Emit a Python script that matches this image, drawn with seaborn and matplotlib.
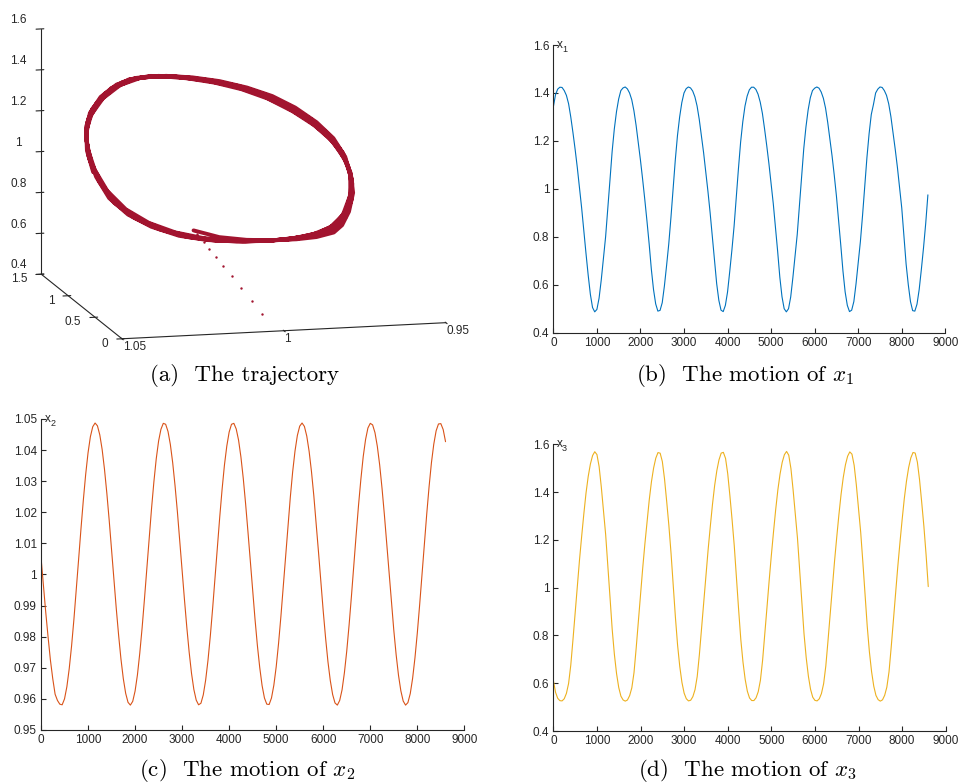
import numpy as np
import matplotlib
matplotlib.use("Agg")
import matplotlib.pyplot as plt
import seaborn as sns
from matplotlib.ticker import FuncFormatter, FixedLocator

sns.set_theme(style="ticks")
plt.rcParams["font.family"] = ["Liberation Sans", "DejaVu Sans"]
plt.rcParams["mathtext.fontset"] = "cm"

# ---------------------------------------------------------------------------
# Data: state variables sampled every 50 time units (t = 0 ... 8600)
# ---------------------------------------------------------------------------
time_step = 50
t_end = 8600

x1 = [
    1.342, 1.393, 1.416, 1.424, 1.423, 1.41, 1.39, 1.355, 1.30, 1.235, 1.165, 1.089, 1.005, 0.92, 0.825, 0.73, 0.64, 0.56, 0.505, 0.487,
    0.497, 0.544, 0.62, 0.71, 0.80, 0.916, 1.036, 1.156, 1.25, 1.322, 1.375, 1.41, 1.421, 1.425, 1.417, 1.40, 1.372, 1.326, 1.265, 1.193,
    1.12, 1.04, 0.955, 0.865, 0.77, 0.665, 0.58, 0.52, 0.49, 0.493, 0.525, 0.595, 0.68, 0.77, 0.88, 1.0, 1.12, 1.222, 1.30, 1.36,
    1.40, 1.418, 1.425, 1.421, 1.408, 1.384, 1.346, 1.29, 1.22, 1.151, 1.07, 0.989, 0.90, 0.80, 0.70, 0.605, 0.535, 0.494, 0.488, 0.514,
    0.57, 0.655, 0.745, 0.844, 0.965, 1.084, 1.195, 1.28, 1.345, 1.387, 1.413, 1.424, 1.424, 1.415, 1.395, 1.362, 1.315, 1.25, 1.18, 1.105,
    1.02, 0.938, 0.84, 0.74, 0.632, 0.55, 0.50, 0.487, 0.50, 0.549, 0.63, 0.718, 0.81, 0.928, 1.05, 1.168, 1.258, 1.329, 1.38, 1.41,
    1.42, 1.425, 1.42, 1.404, 1.378, 1.337, 1.277, 1.207, 1.137, 1.057, 0.97, 0.87, 0.765, 0.657, 0.57, 0.514, 0.488, 0.494, 0.53, 0.604,
    0.69, 0.78, 0.89, 1.01, 1.13, 1.23, 1.31, 1.352, 1.40, 1.416, 1.425, 1.423, 1.41, 1.39, 1.355, 1.302, 1.235, 1.165, 1.09, 1.005,
    0.92, 0.80, 0.686, 0.60, 0.53, 0.492, 0.49, 0.519, 0.58, 0.664, 0.755, 0.856, 0.975,
]

x2 = [
    1.0056, 0.9968, 0.9880, 0.9800, 0.9725, 0.9665, 0.9615, 0.9595, 0.9583, 0.9581, 0.9600, 0.9639, 0.9697, 0.9770, 0.9856, 0.9951, 1.0049, 1.0147, 1.0239, 1.0322,
    1.0391, 1.0443, 1.0475, 1.0487, 1.0478, 1.0449, 1.0402, 1.0338, 1.0261, 1.0174, 1.0080, 0.9985, 0.9891, 0.9805, 0.9728, 0.9665, 0.9618, 0.9589, 0.9580, 0.9592,
    0.9625, 0.9677, 0.9747, 0.9829, 0.9922, 1.0020, 1.0118, 1.0212, 1.0298, 1.0372, 1.0429, 1.0467, 1.0486, 1.0483, 1.0460, 1.0418, 1.0359, 1.0285, 1.0201, 1.0109,
    1.0013, 0.9919, 0.9830, 0.9750, 0.9682, 0.9630, 0.9596, 0.9581, 0.9586, 0.9613, 0.9660, 0.9724, 0.9803, 0.9893, 0.9990, 1.0089, 1.0185, 1.0274, 1.0352, 1.0413,
    1.0458, 1.0483, 1.0486, 1.0468, 1.0432, 1.0378, 1.0309, 1.0227, 1.0137, 1.0042, 0.9947, 0.9856, 0.9772, 0.9701, 0.9643, 0.9603, 0.9583, 0.9582, 0.9603, 0.9644,
    0.9703, 0.9778, 0.9865, 0.9961, 1.0059, 1.0157, 1.0248, 1.0330, 1.0397, 1.0447, 1.0477, 1.0487, 1.0476, 1.0445, 1.0396, 1.0331, 1.0253, 1.0164, 1.0071, 0.9975,
    0.9882, 0.9796, 0.9720, 0.9659, 0.9614, 0.9587, 0.9580, 0.9595, 0.9629, 0.9684, 0.9754, 0.9838, 0.9931, 1.0030, 1.0128, 1.0222, 1.0306, 1.0379, 1.0434, 1.0471,
    1.0486, 1.0481, 1.0456, 1.0412, 1.0352, 1.0277, 1.0192, 1.0099, 1.0004, 0.9910, 0.9821, 0.9742, 0.9676, 0.9626, 0.9593, 0.9580, 0.9588, 0.9617, 0.9666, 0.9732,
    0.9812, 0.9903, 1.0000, 1.0099, 1.0194, 1.0282, 1.0359, 1.0419, 1.0462, 1.0484, 1.0485, 1.0466, 1.0427,
]

x3 = [
    0.6126, 0.562, 0.537, 0.527, 0.526, 0.535, 0.5576, 0.5992, 0.676, 0.7818, 0.894, 1.0062, 1.116, 1.2156, 1.31, 1.3966, 1.4656, 1.5175, 1.5527, 1.5688,
    1.557, 1.5067, 1.4214, 1.3224, 1.222, 1.0925, 0.959, 0.8253, 0.7209, 0.6403, 0.5819, 0.5458, 0.530, 0.525, 0.5299, 0.548, 0.5806, 0.644, 0.7466, 0.8588,
    0.971, 1.082, 1.1833, 1.2776, 1.3673, 1.4428, 1.5008, 1.5419, 1.5652, 1.5628, 1.5278, 1.4554, 1.3606, 1.2602, 1.1433, 1.0098, 0.8761, 0.7591, 0.6699, 0.6031,
    0.5585, 0.5351, 0.526, 0.5287, 0.5437, 0.573, 0.628, 0.72, 0.8302, 0.9424, 1.0546, 1.158, 1.2555, 1.3478, 1.4274, 1.4896, 1.5351, 1.563, 1.5662, 1.541,
    1.4768, 1.3846, 1.2843, 1.1753, 1.0418, 0.9082, 0.7831, 0.6886, 0.6164, 0.5665, 0.5383, 0.5275, 0.5274, 0.539, 0.5646, 0.6124, 0.696, 0.8038, 0.916, 1.0282,
    1.134, 1.2327, 1.3262, 1.409, 1.4752, 1.5246, 1.5565, 1.570, 1.5544, 1.4982, 1.4087, 1.3084, 1.2073, 1.0738, 0.9403, 0.8072, 0.7073, 0.6298, 0.5745, 0.5415,
    0.5283, 0.526, 0.5347, 0.557, 0.598, 0.672, 0.7774, 0.8896, 1.0018, 1.11, 1.2099, 1.3046, 1.3904, 1.4608, 1.514, 1.55, 1.5681, 1.5587, 1.5122, 1.4303,
    1.3325, 1.2321, 1.1059, 0.9724, 0.8386, 0.731, 0.6481, 0.5875, 0.5491, 0.5313, 0.525, 0.5304, 0.5493, 0.5836, 0.648, 0.751, 0.8632, 0.9754, 1.086, 1.1871,
    1.283, 1.372, 1.4452, 1.5026, 1.543, 1.5655, 1.5633, 1.5256, 1.4518, 1.3565, 1.2562, 1.1379, 1.0044,
]

# fast initial transient (all at t ~ 0), drawn as separate samples
trans_x1 = [0.400, 0.544, 0.688, 0.819, 0.939, 1.042, 1.130, 1.204, 1.251, 1.297, 1.330]
trans_x2 = [1.0000, 1.0009, 1.0017, 1.0025, 1.0032, 1.0038, 1.0043, 1.0048, 1.0050, 1.0053, 1.0055]
trans_x3 = [0.400, 0.433, 0.465, 0.495, 0.522, 0.545, 0.565, 0.582, 0.592, 0.603, 0.610]

t = np.arange(0, t_end + 1, time_step)

# tick settings
time_ticks = list(range(0, 9001, 1000))
x1_ticks = [0.4, 0.6, 0.8, 1.0, 1.2, 1.4, 1.6]
x2_ticks = [0.95, 0.96, 0.97, 0.98, 0.99, 1.00, 1.01, 1.02, 1.03, 1.04, 1.05]
x3_ticks = [0.4, 0.6, 0.8, 1.0, 1.2, 1.4, 1.6]

captions = [
    r"(a)  The trajectory",
    r"(b)  The motion of $x_1$",
    r"(c)  The motion of $x_2$",
    r"(d)  The motion of $x_3$",
]

C_X1 = "#0072BD"
C_X2 = "#D95319"
C_X3 = "#EDB120"
C_TRAJ = "#A2142F"
AX_COL = "#262626"

fmt = FuncFormatter(lambda v, p: f"{v:g}")

fig = plt.figure(figsize=(9.6, 7.83), dpi=100)


def time_panel(rect, trans, series, color, yticks, name):
    ax = fig.add_axes(rect)
    tt = np.concatenate([np.zeros(len(trans)), t])
    yy = np.concatenate([trans, series])
    sns.lineplot(x=tt, y=yy, ax=ax, color=color, linewidth=0.8,
                 estimator=None, sort=False)
    ax.set_xlim(0, 9000)
    ax.set_ylim(yticks[0], yticks[-1])
    ax.xaxis.set_major_locator(FixedLocator(time_ticks))
    ax.yaxis.set_major_locator(FixedLocator(yticks))
    ax.xaxis.set_major_formatter(fmt)
    ax.yaxis.set_major_formatter(fmt)
    sns.despine(ax=ax)
    for s in ("left", "bottom"):
        ax.spines[s].set_color(AX_COL)
        ax.spines[s].set_linewidth(0.8)
    ax.tick_params(direction="in", length=3.5, width=0.8, colors=AX_COL,
                   labelsize=8.5, pad=3)
    ax.set_xlabel("")
    ax.set_ylabel("")
    ax.text(0.008, 1.0, "x", transform=ax.transAxes, ha="left", va="center",
            fontsize=8.5, color=AX_COL)
    ax.text(0.022, 0.985, name, transform=ax.transAxes, ha="left", va="center",
            fontsize=6.5, color=AX_COL)
    return ax


time_panel([0.5764, 0.5751, 0.4083, 0.3674], trans_x1, x1, C_X1, x1_ticks, "1")
time_panel([0.0427, 0.0677, 0.4410, 0.3972], trans_x2, x2, C_X2, x2_ticks, "2")
time_panel([0.5764, 0.0664, 0.4087, 0.3662], trans_x3, x3, C_X3, x3_ticks, "3")

# 3-D trajectory (x2, x1, x3)
ax3 = fig.add_axes([-0.0016, 0.529, 0.5, 0.48], projection="3d", proj_type="ortho")
ax3.plot(x2, x1, x3, color=C_TRAJ, linewidth=2.8, solid_capstyle="round")
ax3.scatter(trans_x2, trans_x1, trans_x3, s=3, color=C_TRAJ, depthshade=False,
            linewidths=0)
ax3.set_xlim(1.05, 0.95)
ax3.set_ylim(0, 1.5)
ax3.set_zlim(0.4, 1.6)
ax3.set_xticks([1.05, 1.0, 0.95])
ax3.set_yticks([0, 0.5, 1.0, 1.5])
ax3.set_zticks([0.4, 0.6, 0.8, 1.0, 1.2, 1.4, 1.6])
for axis in (ax3.xaxis, ax3.yaxis, ax3.zaxis):
    axis.set_major_formatter(fmt)
    axis.set_pane_color((1, 1, 1, 0))
    axis.pane.set_edgecolor((1, 1, 1, 0))
    axis.line.set_color(AX_COL)
    axis.line.set_linewidth(0.8)
    axis._axinfo["tick"]["color"] = AX_COL
    axis._axinfo["tick"]["linewidth"] = {True: 0.8, False: 0.5}
ax3.grid(False)
ax3.tick_params(labelsize=8.5, colors=AX_COL)
ax3.xaxis.set_tick_params(pad=-7)
ax3.yaxis.set_tick_params(pad=-2)
ax3.zaxis.set_tick_params(pad=0)
for tk in ax3.xaxis.get_major_ticks():
    tk.label1.set_horizontalalignment("left")
for tk in ax3.yaxis.get_major_ticks():
    tk.label1.set_horizontalalignment("right")
    tk.label1.set_verticalalignment("bottom")
for tk in ax3.zaxis.get_major_ticks():
    tk.label1.set_verticalalignment("bottom")
ax3.view_init(elev=11.5, azim=-104)
ax3.set_box_aspect(None, zoom=1.38)
ax3.set_facecolor((1, 1, 1, 0))

cap_pos = [(0.255, 0.521), (0.776, 0.521), (0.257, 0.0166), (0.779, 0.0166)]
for (cx, cy), txt in zip(cap_pos, captions):
    fig.text(cx, cy, txt, ha="center", va="center", fontsize=16.5,
             family="cmr10", color="black")

fig.savefig("out.png", dpi=100)
